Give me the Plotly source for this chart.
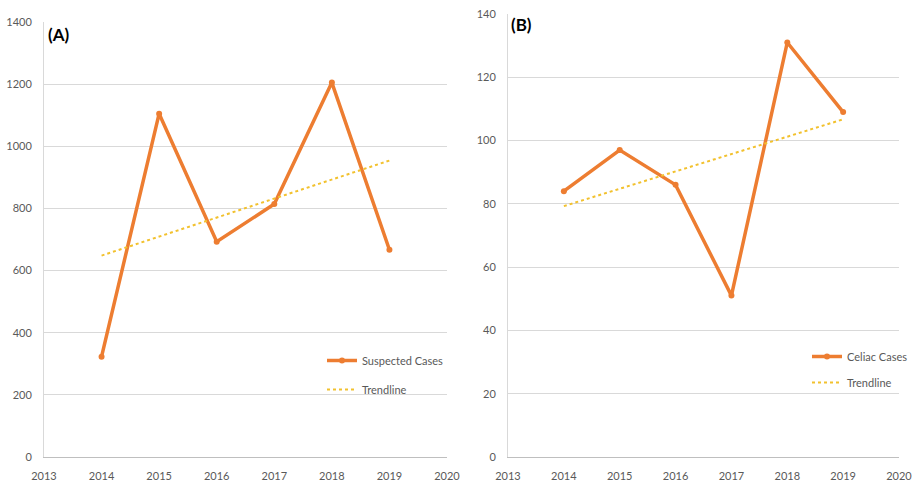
import numpy as np
import plotly.graph_objects as go

# Yearly counts
years = [2014, 2015, 2016, 2017, 2018, 2019]
suspected_cases = [323, 1105, 693, 814, 1205, 667]
celiac_cases = [84, 97, 86, 51, 131, 109]

x_ticks = [2013, 2014, 2015, 2016, 2017, 2018, 2019, 2020]

ORANGE = "#ED7D31"
GOLD = "#F2C12E"
GRID = "#D9D9D9"
TICK = "#595959"
FONT = "Lato, 'Noto Sans', sans-serif"

W, H = 913, 482


def linear_trend(xs, ys):
    slope, intercept = np.polyfit(xs, ys, 1)
    return [slope * x + intercept for x in xs]


def px_dom(a, b, total):
    return [a / total, b / total]


def py_dom(top, bottom):
    return [(H - bottom) / H, (H - top) / H]


fig = go.Figure()

panels = [
    dict(values=suspected_cases, name="Suspected Cases", xa="x", ya="y", legend="legend"),
    dict(values=celiac_cases, name="Celiac Cases", xa="x2", ya="y2", legend="legend2"),
]

for p in panels:
    fig.add_trace(go.Scatter(
        x=years, y=p["values"], name=p["name"], mode="lines+markers",
        line=dict(color=ORANGE, width=3.5),
        marker=dict(color=ORANGE, size=6),
        xaxis=p["xa"], yaxis=p["ya"], legend=p["legend"], legendgroup=p["name"],
    ))
    fig.add_trace(go.Scatter(
        x=years, y=linear_trend(years, p["values"]), name="Trendline", mode="lines",
        line=dict(color=GOLD, width=2, dash="dot"),
        xaxis=p["xa"], yaxis=p["ya"], legend=p["legend"], legendgroup=p["name"] + "-trend",
    ))

x_common = dict(
    showgrid=False, zeroline=False, ticks="", fixedrange=True, automargin=False,
    showline=True, linecolor="#BFBFBF", ticklabelstandoff=9, ticklabeloverflow="allow",
    tickfont=dict(family=FONT, size=11, color=TICK),
)
y_common = dict(
    showgrid=True, gridcolor=GRID, gridwidth=1,
    zeroline=False, ticks="", fixedrange=True, automargin=False,
    showline=True, linecolor=GRID, ticklabelstandoff=9,
    tickfont=dict(family=FONT, size=11, color=TICK),
)

legend_common = dict(
    yanchor="top", bgcolor="rgba(0,0,0,0)", itemwidth=30,
    font=dict(family=FONT, size=11, color=TICK),
)

fig.update_layout(
    width=W, height=H,
    margin=dict(l=0, r=0, t=0, b=0, autoexpand=False),
    paper_bgcolor="white", plot_bgcolor="white",
    font=dict(family=FONT, color=TICK),
    xaxis=dict(domain=px_dom(44, 447, W), range=[2013, 2020], tickvals=x_ticks,
               anchor="y", **x_common),
    yaxis=dict(domain=py_dom(22, 457), range=[0, 1400], dtick=200,
               anchor="x", **y_common),
    xaxis2=dict(domain=px_dom(508, 899, W), range=[2013, 2020], tickvals=x_ticks,
                anchor="y2", **x_common),
    yaxis2=dict(domain=py_dom(14, 457), range=[0, 140], dtick=20,
                anchor="x2", **y_common),
    legend=dict(x=322 / W, xanchor="left", y=(H - 346) / H, tracegroupgap=10,
                **legend_common),
    legend2=dict(x=1.0, xanchor="right", y=(H - 342) / H, tracegroupgap=7,
                 **legend_common),
    annotations=[
        dict(text="<b>(A)</b>", x=46 / W, y=(H - 22) / H, xref="paper", yref="paper",
             xanchor="left", yanchor="top", showarrow=False,
             font=dict(family=FONT, size=17, color="#000000")),
        dict(text="<b>(B)</b>", x=508.5 / W, y=(H - 12) / H, xref="paper", yref="paper",
             xanchor="left", yanchor="top", showarrow=False,
             font=dict(family=FONT, size=17, color="#000000")),
    ],
)

fig.write_html("out.html")
